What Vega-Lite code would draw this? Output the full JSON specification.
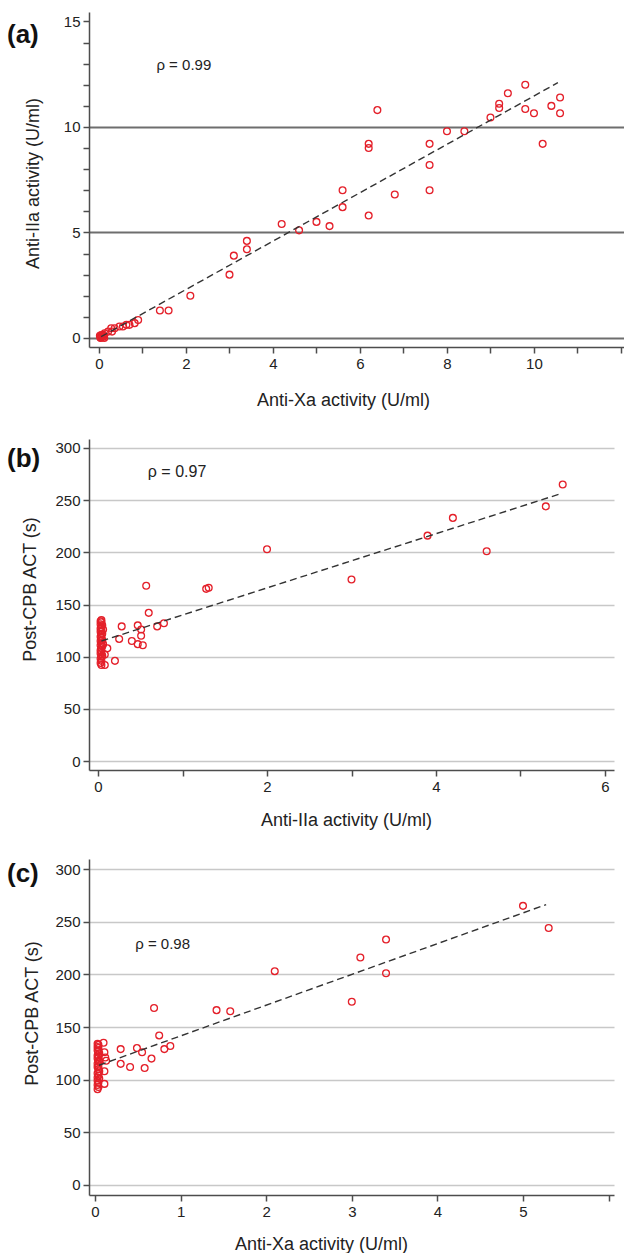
{
  "$schema": "https://vega.github.io/schema/vega-lite/v6.json",
  "background": "white",
  "padding": {"left": 7, "top": 12, "right": 0, "bottom": 0},
  "spacing": 30,
  "config": {
    "view": {"stroke": null},
    "font": "Liberation Sans",
    "axis": {
      "domainColor": "#4d4d4d", "domainWidth": 1.5,
      "tickColor": "#4d4d4d", "tickWidth": 1.5, "tickSize": 6,
      "labelFont": "Liberation Sans", "labelFontSize": 15, "labelColor": "#222222", "labelPadding": 3,
      "titleFont": "Liberation Sans", "titleFontSize": 18, "titleFontWeight": "normal", "titleColor": "#222222",
      "labelOverlap": false, "labelFlush": false
    },
    "title": {"font": "Liberation Sans", "fontSize": 26, "fontWeight": "bold", "color": "#111111", "anchor": "start", "frame": "group", "baseline": "middle"}
  },
  "datasets": {
    "a": [
      {"anti_xa": 9.8, "anti_iia": 12.0}, {"anti_xa": 9.4, "anti_iia": 11.6}, {"anti_xa": 10.6, "anti_iia": 11.4},
      {"anti_xa": 6.4, "anti_iia": 10.8}, {"anti_xa": 9.2, "anti_iia": 11.1}, {"anti_xa": 9.2, "anti_iia": 10.9},
      {"anti_xa": 9.8, "anti_iia": 10.85}, {"anti_xa": 10.4, "anti_iia": 11.0}, {"anti_xa": 10.0, "anti_iia": 10.65},
      {"anti_xa": 10.6, "anti_iia": 10.65}, {"anti_xa": 9.0, "anti_iia": 10.45}, {"anti_xa": 8.0, "anti_iia": 9.8},
      {"anti_xa": 8.4, "anti_iia": 9.8}, {"anti_xa": 6.2, "anti_iia": 9.2}, {"anti_xa": 6.2, "anti_iia": 9.0},
      {"anti_xa": 7.6, "anti_iia": 9.2}, {"anti_xa": 10.2, "anti_iia": 9.2}, {"anti_xa": 7.6, "anti_iia": 8.2},
      {"anti_xa": 5.6, "anti_iia": 7.0}, {"anti_xa": 7.6, "anti_iia": 7.0}, {"anti_xa": 6.8, "anti_iia": 6.8},
      {"anti_xa": 5.6, "anti_iia": 6.2}, {"anti_xa": 6.2, "anti_iia": 5.8}, {"anti_xa": 4.2, "anti_iia": 5.4},
      {"anti_xa": 5.0, "anti_iia": 5.5}, {"anti_xa": 5.3, "anti_iia": 5.3}, {"anti_xa": 4.6, "anti_iia": 5.1},
      {"anti_xa": 3.4, "anti_iia": 4.6}, {"anti_xa": 3.4, "anti_iia": 4.2}, {"anti_xa": 3.1, "anti_iia": 3.9},
      {"anti_xa": 3.0, "anti_iia": 3.0}, {"anti_xa": 2.1, "anti_iia": 2.0}, {"anti_xa": 1.4, "anti_iia": 1.3},
      {"anti_xa": 1.6, "anti_iia": 1.3}, {"anti_xa": 0.9, "anti_iia": 0.85}, {"anti_xa": 0.82, "anti_iia": 0.7},
      {"anti_xa": 0.7, "anti_iia": 0.62}, {"anti_xa": 0.63, "anti_iia": 0.62}, {"anti_xa": 0.55, "anti_iia": 0.54},
      {"anti_xa": 0.47, "anti_iia": 0.54}, {"anti_xa": 0.36, "anti_iia": 0.46}, {"anti_xa": 0.28, "anti_iia": 0.46},
      {"anti_xa": 0.3, "anti_iia": 0.3}, {"anti_xa": 0.21, "anti_iia": 0.3}, {"anti_xa": 0.13, "anti_iia": 0.22},
      {"anti_xa": 0.1, "anti_iia": 0.15}, {"anti_xa": 0.05, "anti_iia": 0.14}, {"anti_xa": 0.08, "anti_iia": 0.1},
      {"anti_xa": 0.1, "anti_iia": 0.05}, {"anti_xa": 0.05, "anti_iia": 0.05}, {"anti_xa": 0.03, "anti_iia": 0.02},
      {"anti_xa": 0.02, "anti_iia": 0.1}, {"anti_xa": 0.04, "anti_iia": 0.0}, {"anti_xa": 0.12, "anti_iia": 0.0}
    ],
    "la": [{"anti_xa": 0.05, "anti_iia": 0.06}, {"anti_xa": 10.55, "anti_iia": 12.1}],
    "ta": [{"anti_xa": 1.95, "anti_iia": 12.94, "label": "ρ = 0.99"}],
    "b": [
      {"anti_iia": 5.5, "act": 265}, {"anti_iia": 5.3, "act": 244}, {"anti_iia": 4.2, "act": 233},
      {"anti_iia": 3.9, "act": 216}, {"anti_iia": 4.6, "act": 201}, {"anti_iia": 2.0, "act": 203},
      {"anti_iia": 3.0, "act": 174}, {"anti_iia": 0.57, "act": 168}, {"anti_iia": 1.28, "act": 165},
      {"anti_iia": 1.31, "act": 166}, {"anti_iia": 0.6, "act": 142}, {"anti_iia": 0.78, "act": 132},
      {"anti_iia": 0.7, "act": 129}, {"anti_iia": 0.28, "act": 129}, {"anti_iia": 0.47, "act": 130},
      {"anti_iia": 0.51, "act": 126}, {"anti_iia": 0.51, "act": 120}, {"anti_iia": 0.25, "act": 117},
      {"anti_iia": 0.4, "act": 115}, {"anti_iia": 0.47, "act": 112}, {"anti_iia": 0.53, "act": 111},
      {"anti_iia": 0.2, "act": 96}, {"anti_iia": 0.11, "act": 108}, {"anti_iia": 0.08, "act": 102},
      {"anti_iia": 0.08, "act": 92}, {"anti_iia": 0.06, "act": 112}, {"anti_iia": 0.06, "act": 126},
      {"anti_iia": 0.04, "act": 92}, {"anti_iia": 0.03, "act": 94}, {"anti_iia": 0.04, "act": 96},
      {"anti_iia": 0.03, "act": 98}, {"anti_iia": 0.04, "act": 100}, {"anti_iia": 0.05, "act": 101},
      {"anti_iia": 0.03, "act": 103}, {"anti_iia": 0.04, "act": 105}, {"anti_iia": 0.03, "act": 106},
      {"anti_iia": 0.04, "act": 108}, {"anti_iia": 0.05, "act": 110}, {"anti_iia": 0.03, "act": 111},
      {"anti_iia": 0.04, "act": 113}, {"anti_iia": 0.03, "act": 115}, {"anti_iia": 0.05, "act": 116},
      {"anti_iia": 0.04, "act": 118}, {"anti_iia": 0.03, "act": 119}, {"anti_iia": 0.04, "act": 121},
      {"anti_iia": 0.05, "act": 122}, {"anti_iia": 0.03, "act": 124}, {"anti_iia": 0.04, "act": 125},
      {"anti_iia": 0.03, "act": 127}, {"anti_iia": 0.04, "act": 128}, {"anti_iia": 0.05, "act": 130},
      {"anti_iia": 0.03, "act": 131}, {"anti_iia": 0.04, "act": 133}, {"anti_iia": 0.03, "act": 134},
      {"anti_iia": 0.04, "act": 135}
    ],
    "lb": [{"anti_iia": 0.04, "act": 115}, {"anti_iia": 5.47, "act": 256}],
    "tb": [{"anti_iia": 0.935, "act": 276.7, "label": "ρ = 0.97"}],
    "c": [
      {"anti_xa": 5.0, "act": 265}, {"anti_xa": 5.3, "act": 244}, {"anti_xa": 3.4, "act": 233},
      {"anti_xa": 3.1, "act": 216}, {"anti_xa": 3.4, "act": 201}, {"anti_xa": 2.1, "act": 203},
      {"anti_xa": 3.0, "act": 174}, {"anti_xa": 0.69, "act": 168}, {"anti_xa": 1.42, "act": 166},
      {"anti_xa": 1.58, "act": 165}, {"anti_xa": 0.75, "act": 142}, {"anti_xa": 0.88, "act": 132},
      {"anti_xa": 0.81, "act": 129}, {"anti_xa": 0.3, "act": 129}, {"anti_xa": 0.49, "act": 130},
      {"anti_xa": 0.55, "act": 126}, {"anti_xa": 0.66, "act": 120}, {"anti_xa": 0.3, "act": 115},
      {"anti_xa": 0.41, "act": 112}, {"anti_xa": 0.58, "act": 111}, {"anti_xa": 0.11, "act": 96},
      {"anti_xa": 0.1, "act": 135}, {"anti_xa": 0.11, "act": 126}, {"anti_xa": 0.13, "act": 118},
      {"anti_xa": 0.11, "act": 108}, {"anti_xa": 0.12, "act": 121},
      {"anti_xa": 0.03, "act": 91}, {"anti_xa": 0.04, "act": 93}, {"anti_xa": 0.03, "act": 95},
      {"anti_xa": 0.04, "act": 97}, {"anti_xa": 0.03, "act": 99}, {"anti_xa": 0.05, "act": 101},
      {"anti_xa": 0.03, "act": 102}, {"anti_xa": 0.04, "act": 104}, {"anti_xa": 0.03, "act": 106},
      {"anti_xa": 0.05, "act": 108}, {"anti_xa": 0.04, "act": 110}, {"anti_xa": 0.03, "act": 112},
      {"anti_xa": 0.04, "act": 113}, {"anti_xa": 0.03, "act": 115}, {"anti_xa": 0.05, "act": 117},
      {"anti_xa": 0.04, "act": 118}, {"anti_xa": 0.03, "act": 120}, {"anti_xa": 0.04, "act": 122},
      {"anti_xa": 0.03, "act": 123}, {"anti_xa": 0.05, "act": 125}, {"anti_xa": 0.04, "act": 127},
      {"anti_xa": 0.03, "act": 128}, {"anti_xa": 0.04, "act": 130}, {"anti_xa": 0.03, "act": 131},
      {"anti_xa": 0.04, "act": 133}, {"anti_xa": 0.03, "act": 134}
    ],
    "lc": [{"anti_xa": 0.047, "act": 113.7}, {"anti_xa": 5.27, "act": 266.2}],
    "tc": [{"anti_xa": 0.79, "act": 228.8, "label": "ρ = 0.98"}]
  },
  "vconcat": [
    {
      "width": 535, "height": 335,
      "title": {"text": "(a)", "dx": -82, "dy": 40},
      "encoding": {
        "x": {"field": "anti_xa", "type": "quantitative",
          "scale": {"domain": [-0.23, 12.07], "nice": false, "zero": false},
          "axis": {"title": "Anti-Xa activity (U/ml)", "values": [0,1,2,3,4,5,6,7,8,9,10,11,12],
            "labelExpr": "datum.value % 2 == 0 && datum.value <= 10 ? datum.label : ''",
            "grid": false, "titleBaseline": "middle", "titleY": 53, "titleX": 254}},
        "y": {"field": "anti_iia", "type": "quantitative",
          "scale": {"domain": [-0.43, 15.45], "nice": false, "zero": false},
          "axis": {"title": "Anti-IIa activity (U/ml)", "values": [0,1,2,3,4,5,6,7,8,9,10,11,12,13,14,15],
            "labelExpr": "datum.value % 5 == 0 ? datum.label : ''",
            "grid": true, "gridColor": "#6e6e6e", "gridWidth": 2,
            "gridOpacity": {"condition": {"test": "datum.value % 5 == 0 && datum.value < 15", "value": 1}, "value": 0},
            "titleBaseline": "middle", "titleX": -56, "titleY": 171}}
      },
      "layer": [
        {"data": {"name": "a"}, "mark": {"type": "point", "shape": "circle", "filled": false, "color": "#e4202a", "strokeWidth": 1.3, "size": 46, "opacity": 1}},
        {"data": {"name": "la"}, "mark": {"type": "line", "color": "#333333", "strokeWidth": 1.4, "strokeDash": [7, 4]}, "encoding": {}},
        {"data": {"name": "ta"}, "mark": {"type": "text", "fontSize": 15, "align": "center", "baseline": "middle", "color": "#222222"}, "encoding": {"text": {"field": "label"}}}
      ]
    },
    {
      "width": 525, "height": 331,
      "title": {"text": "(b)", "dx": -82, "dy": 37},
      "encoding": {
        "x": {"field": "anti_iia", "type": "quantitative",
          "scale": {"domain": [-0.107, 6.107], "nice": false, "zero": false},
          "axis": {"title": "Anti-IIa activity (U/ml)", "values": [0,1,2,3,4,5,6],
            "labelExpr": "datum.value % 2 == 0 ? datum.label : ''",
            "grid": false, "titleBaseline": "middle", "titleY": 50, "titleX": 257}},
        "y": {"field": "act", "type": "quantitative",
          "scale": {"domain": [-8.6, 308.6], "nice": false, "zero": false},
          "axis": {"title": "Post-CPB ACT (s)", "values": [0,50,100,150,200,250,300],
            "grid": true, "gridColor": "#c8c8c8", "gridWidth": 1.5,
            "titleBaseline": "middle", "titleX": -59, "titleY": 150}}
      },
      "layer": [
        {"data": {"name": "b"}, "mark": {"type": "point", "shape": "circle", "filled": false, "color": "#e4202a", "strokeWidth": 1.3, "size": 46, "opacity": 1}},
        {"data": {"name": "lb"}, "mark": {"type": "line", "color": "#333333", "strokeWidth": 1.4, "strokeDash": [7, 4]}, "encoding": {}},
        {"data": {"name": "tb"}, "mark": {"type": "text", "fontSize": 16, "align": "center", "baseline": "middle", "color": "#222222"}, "encoding": {"text": {"field": "label"}}}
      ]
    },
    {
      "width": 525, "height": 336,
      "title": {"text": "(c)", "dx": -82, "dy": 32},
      "encoding": {
        "x": {"field": "anti_xa", "type": "quantitative",
          "scale": {"domain": [-0.07, 6.063], "nice": false, "zero": false},
          "axis": {"title": "Anti-Xa activity (U/ml)", "values": [0,1,2,3,4,5,6],
            "labelExpr": "datum.value <= 5 ? datum.label : ''",
            "grid": false, "titleBaseline": "middle", "titleY": 49, "titleX": 232}},
        "y": {"field": "act", "type": "quantitative",
          "scale": {"domain": [-9.5, 309.5], "nice": false, "zero": false},
          "axis": {"title": "Post-CPB ACT (s)", "values": [0,50,100,150,200,250,300],
            "grid": true, "gridColor": "#c8c8c8", "gridWidth": 1.5,
            "titleBaseline": "middle", "titleX": -57, "titleY": 154}}
      },
      "layer": [
        {"data": {"name": "c"}, "mark": {"type": "point", "shape": "circle", "filled": false, "color": "#e4202a", "strokeWidth": 1.3, "size": 46, "opacity": 1}},
        {"data": {"name": "lc"}, "mark": {"type": "line", "color": "#333333", "strokeWidth": 1.4, "strokeDash": [7, 4]}, "encoding": {}},
        {"data": {"name": "tc"}, "mark": {"type": "text", "fontSize": 15, "align": "center", "baseline": "middle", "color": "#222222"}, "encoding": {"text": {"field": "label"}}}
      ]
    }
  ]
}
